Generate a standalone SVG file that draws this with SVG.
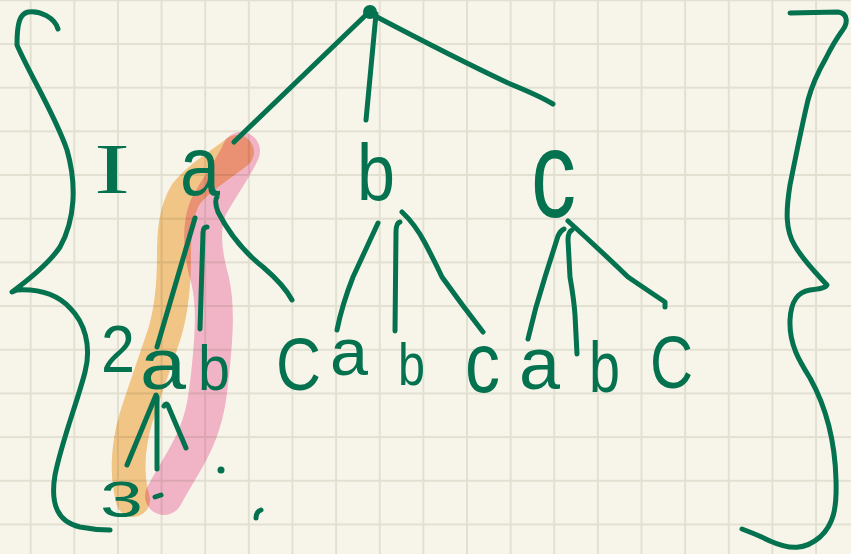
<svg xmlns="http://www.w3.org/2000/svg" width="851" height="554" viewBox="0 0 851 554">
<style>
.ink{fill:none;stroke:#04714f;stroke-width:5;stroke-linecap:round;stroke-linejoin:round}
.t{fill:#04714f;font-family:"Liberation Sans",Arial,sans-serif}
.ts{fill:#04714f;font-family:"Liberation Serif","Times New Roman",serif}
.hl{fill:none;stroke-linecap:round;stroke-linejoin:round;mix-blend-mode:multiply}
</style>
<defs>
<pattern id="grid" x="29.7" y="-0.7" width="43.63" height="43.68" patternUnits="userSpaceOnUse">
<path d="M1,0 V43.68 M0,1 H43.63" stroke="#e2e0d1" stroke-width="2" fill="none"/>
</pattern>
</defs>
<rect width="851" height="554" fill="#f7f5ea"/>
<rect width="851" height="554" fill="url(#grid)"/>

<g id="highlights">
<path class="hl" stroke="#f8cd92" stroke-width="34" d="M237,152 C222,164 198,178 186,194 C175,212 174,235 174,255 C174,285 172,310 164,335 C155,362 145,390 136,418 C128,445 126,475 133,500"/>
<path class="hl" stroke="#f8bcd8" stroke-width="38" d="M241,151 C234,168 218,188 208,208 C200,228 203,255 210,280 C216,305 214,335 211,365 C208,395 206,415 195,440 C185,462 172,480 164,496"/>
</g>

<g id="connectors">
<path class="ink" d="M369,12 L234,142"/>
<path class="ink" d="M376,14 L366,120"/>
<path class="ink" d="M377,17 Q455,58 508,83 Q540,96 553,104"/>
<path class="ink" d="M195,218 L157,347"/>
<path class="ink" d="M207,227 Q203,227 203,233 L200,329"/>
<path class="ink" d="M217,197 Q214,201 218,212 Q235,245 263,267 Q284,285 292,300"/>
<path class="ink" d="M378,223 L353,277 Q342,305 337,330"/>
<path class="ink" d="M400,222 Q396,223 396,232 L395,331"/>
<path class="ink" d="M402,212 Q415,224 425,243 Q435,262 442,277 Q462,305 483,332"/>
<path class="ink" d="M564,229 Q560,231 558,236 L545,277 Q535,308 528,339"/>
<path class="ink" d="M572,230 Q568,232 568,240 L570,277 Q574,300 575,315 L577,354"/>
<path class="ink" d="M568,221 Q600,250 628,277 Q650,292 665,302 L665,307"/>
<path class="ink" d="M156,395 L127,465"/>
<path class="ink" d="M157,397 L157,469"/>
<path class="ink" d="M164,406 Q167,401 169,408 L186,448"/>
</g>

<g id="braces">
<path class="ink" d="M58,29 C55,18 40,10 28,12 C20,14 17,22 17,45 C30,75 55,115 67,150 C77,185 75,220 60,247 C50,262 35,275 12,292 L17,290 C35,289 55,292 70,308 C84,322 92,345 85,372 C78,400 62,440 55,475 C50,505 58,522 80,527 C95,530 105,530 110,530"/>
<path class="ink" d="M790,13 L838,12 C847,13 849,22 842,31 C834,42 830,50 826,58 C818,72 812,85 808,100 C802,125 795,160 790,185 C786,210 785,230 795,246 C803,260 815,272 827,285 C826,288 818,289 810,290 C798,292 791,300 790,320 C789,345 800,362 810,378 C825,405 835,440 836,480 C837,510 833,525 820,537 C805,550 790,550 770,541 C760,536 750,532 742,529"/>
</g>

<g id="root"><circle cx="370" cy="12" r="7" fill="#04714f"/></g>

<g id="level-labels">
<text class="ts" x="94" y="193" font-size="72" textLength="36" lengthAdjust="spacingAndGlyphs">I</text>
<text class="t" x="101" y="372" font-size="66" textLength="34" lengthAdjust="spacingAndGlyphs">2</text>
<text class="t" x="100" y="517" font-size="50" textLength="43" lengthAdjust="spacingAndGlyphs">3</text>
<path class="ink" d="M155,497 L161,495"/>
<circle cx="221" cy="470" r="3.5" fill="#04714f"/>
<path class="ink" d="M256,518 Q256,512 261,510"/>
</g>

<g id="node-a"><text class="t" x="180" y="195" font-size="83" textLength="40" lengthAdjust="spacingAndGlyphs">a</text></g>
<g id="node-b"><text class="t" x="357" y="200" font-size="80" textLength="38" lengthAdjust="spacingAndGlyphs">b</text></g>
<g id="node-c"><text class="t" x="531" y="217" font-size="124" textLength="45" lengthAdjust="spacingAndGlyphs">c</text></g>

<g id="node-aa"><text class="t" x="140" y="389" font-size="73" textLength="46" lengthAdjust="spacingAndGlyphs">a</text></g>
<g id="node-ab"><text class="t" x="198" y="390" font-size="63" textLength="32" lengthAdjust="spacingAndGlyphs">b</text></g>
<g id="node-ac"><text class="t" x="276" y="390" font-size="74" textLength="45" lengthAdjust="spacingAndGlyphs">C</text></g>
<g id="node-ba"><text class="t" x="330" y="375" font-size="67" textLength="38" lengthAdjust="spacingAndGlyphs">a</text></g>
<g id="node-bb"><text class="t" x="398" y="385" font-size="60" textLength="27" lengthAdjust="spacingAndGlyphs">b</text></g>
<g id="node-bc"><text class="t" x="465" y="392" font-size="85" textLength="35" lengthAdjust="spacingAndGlyphs">c</text></g>
<g id="node-ca"><text class="t" x="519" y="389" font-size="75" textLength="41" lengthAdjust="spacingAndGlyphs">a</text></g>
<g id="node-cb"><text class="t" x="589" y="392" font-size="72" textLength="31" lengthAdjust="spacingAndGlyphs">b</text></g>
<g id="node-cc"><text class="t" x="650" y="388" font-size="75" textLength="43" lengthAdjust="spacingAndGlyphs">C</text></g>
</svg>
